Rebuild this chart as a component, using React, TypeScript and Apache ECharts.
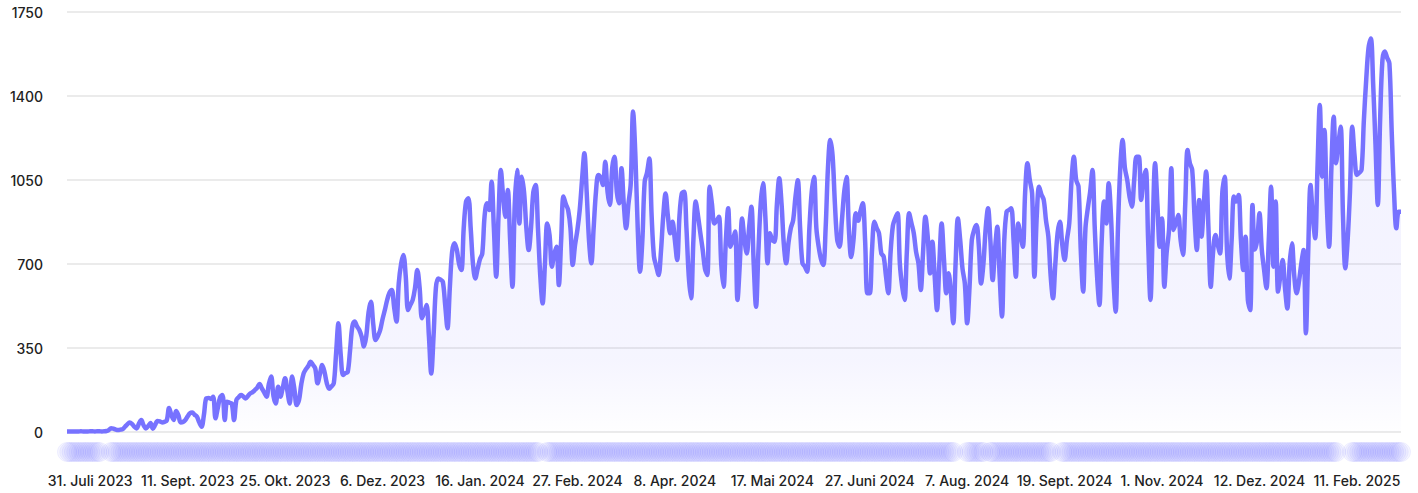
import { useEffect, useRef } from "react";
import * as echarts from "echarts";

const tickLabels = [
  "31. Juli 2023", "11. Sept. 2023", "25. Okt. 2023", "6. Dez. 2023", "16. Jan. 2024",
  "27. Feb. 2024", "8. Apr. 2024", "17. Mai 2024", "27. Juni 2024", "7. Aug. 2024",
  "19. Sept. 2024", "1. Nov. 2024", "12. Dez. 2024", "11. Feb. 2025",
];
const FIRST_TICK = 10;
const TICK_STEP = 42;

const valuesPart1 = [
  2, 2, 2, 2, 2, 2, 3, 2, 2, 2,
  3, 3, 2, 3, 3, 2, 3, 4,
  8, 16, 14, 10, 8, 10, 12, 22, 32, 40,
  34, 22, 15, 35, 50, 28, 15, 25, 37, 14,
  30, 46, 44, 40, 42, 48, 100, 70, 50, 87,
  70, 40, 42, 50, 65, 78, 81, 72, 64, 40,
  22, 70, 140, 142, 138, 147, 57, 100, 145, 154,
  50, 126, 122, 119, 50, 133, 145, 154, 148, 140,
  150, 161, 166, 175, 185, 200, 182, 165, 147, 200,
  231, 150, 119, 189, 147, 185, 224, 170, 119, 231,
  180, 112, 133, 200, 244, 262, 275, 293, 280, 265,
  203, 240, 279, 250, 203,
];
const valuesPart2 = [
  180, 190, 203, 330, 453, 320, 237, 245, 250, 340,
  440, 460, 440, 425, 397, 356, 400, 500, 543, 450,
  383, 400, 425, 470, 508, 550, 580, 592, 520, 460,
  620, 700, 737, 650, 508, 530, 550, 600, 675, 600,
  474, 500, 529, 400, 244, 400, 600, 640, 635, 626,
  530, 432, 600, 750, 786, 760, 700, 675, 850, 960,
  974, 850, 700, 640, 680, 720, 744, 900, 953, 925,
  1043, 850, 647, 900, 1092, 980, 897, 1008, 800, 605,
  950, 1092, 869, 1064, 1000, 850, 758, 850, 1000, 1029,
  850, 650, 536, 700, 869, 820, 689, 740, 772, 612,
  800, 981, 950, 925, 850, 696, 780, 842, 925, 1050,
  1161, 1000, 800, 703, 850, 1000, 1071,
];
const valuesPart3 = [
  1060, 1029, 1126, 1000, 946, 1100, 1147, 1000, 953, 1099,
  950, 849, 950, 1036, 1335, 1150, 850, 668, 800, 1043,
  1080, 1140, 900, 731, 690, 654, 750, 900, 994, 900,
  828, 876, 800, 717, 900, 994, 1001, 850, 650, 557,
  800, 960, 900, 828, 760, 680, 654, 1022, 950, 869,
  880, 897, 700, 605, 800, 932, 772, 800, 835, 550,
  700, 890, 800, 744, 850, 939, 700, 522, 750, 950,
  1036, 900, 703, 828, 800, 793, 950, 1057, 950, 780,
  703, 790, 850, 883, 980, 1049, 850, 703, 690, 668,
  850, 1000, 1063, 850, 772, 720, 696, 850, 1100, 1217,
  1150, 950, 800, 772, 880, 1000, 1063, 850, 729, 800,
  911, 880, 920, 953, 800, 578,
];
const valuesPart4 = [
  578, 760, 876, 850, 828, 744, 731, 650, 578, 750,
  860, 890, 911, 700, 605, 550, 750, 911, 870, 828,
  750, 703, 592, 750, 897, 814, 661, 793, 650, 508,
  700, 869, 720, 578, 661, 580, 453, 700, 890, 800,
  680, 619, 453, 600, 800, 842, 862, 780, 619, 700,
  850, 932, 800, 633, 760, 855, 650, 481, 800, 918,
  925, 932, 800, 647, 869, 820, 772, 1000, 1120, 1050,
  994, 647, 900, 1022, 990, 967, 880, 814, 650, 557,
  700, 830, 876, 780, 717, 800, 869, 1050, 1147, 1050,
  1022, 750, 585, 850, 932, 1000, 1092, 850, 650, 529,
  800, 960, 869, 1036, 900, 650, 501, 850, 1100, 1217,
  1100, 1050, 980, 939, 1050, 1147,
];
const valuesPart5 = [
  1147, 967, 1050, 1092, 800, 550, 850, 1120, 950, 772,
  890, 605, 750, 842, 1099, 842, 870, 904, 800, 738,
  950, 1175, 1120, 1092, 900, 758, 967, 814, 950, 1085,
  850, 605, 750, 821, 780, 744, 1000, 1064, 758, 640,
  800, 981, 960, 988, 800, 675, 814, 550, 508, 946,
  760, 800, 911, 760, 675, 599, 800, 1022, 689, 960,
  585, 650, 717, 600, 515, 700, 786, 650, 578, 626,
  700, 758, 411, 750, 1029, 897, 807, 1100, 1363, 1064,
  1258, 950, 772, 1100, 1314, 1120, 1200, 1272, 900, 682,
  800, 1000, 1272, 1150, 1071, 1080, 1092, 1300, 1467, 1600,
  1640, 1450, 1200, 946, 1300, 1550, 1585, 1560, 1536, 1250,
  1000, 849, 918, 918,
];

const values = [...valuesPart1, ...valuesPart2, ...valuesPart3, ...valuesPart4, ...valuesPart5];
const categories = values.map((_, i) => String(i));

// index ranges with no marker in the bottom dot strip
const dotGaps = [[15, 18], [204, 206], [383, 387], [396, 397], [425, 428], [548, 553]];

const LINE = "#7772ff";
const FONT = "Inter, 'Noto Sans', sans-serif";

export default function App() {
  const ref = useRef<HTMLDivElement>(null);
  useEffect(() => {
    const chart = echarts.init(ref.current!, null, { renderer: "svg" });
    const dots: number[][] = [];
    values.forEach((_, i) => {
      if (!dotGaps.some(([a, b]) => i >= a && i <= b)) dots.push([i, 0]);
    });
    const isTick = (i: number) => i >= FIRST_TICK && (i - FIRST_TICK) % TICK_STEP === 0;
    chart.setOption({
      animation: false,
      grid: [
        { left: 67, right: 17, top: 12, bottom: 61 },
        { left: 67, right: 17, top: 442, height: 20 },
      ],
      xAxis: [
        {
          type: "category", gridIndex: 0, data: categories, boundaryGap: false,
          axisLine: { show: false }, axisTick: { show: false }, axisLabel: { show: false },
        },
        {
          type: "category", gridIndex: 1, data: categories, boundaryGap: false,
          axisLine: { show: false }, axisTick: { show: false },
          axisLabel: {
            interval: (i: number) => isTick(i),
            formatter: (_v: string, i: number) => tickLabels[(i - FIRST_TICK) / TICK_STEP] ?? "",
            margin: 11, color: "#222", fontSize: 14, fontWeight: 500, fontFamily: FONT,
          },
        },
      ],
      yAxis: [
        {
          type: "value", gridIndex: 0, min: 0, max: 1750, interval: 350,
          axisLine: { show: false }, axisTick: { show: false },
          axisLabel: {
            color: "#222", fontSize: 14, fontWeight: 500, margin: 24, fontFamily: FONT,
            formatter: (v: number) => String(v),
          },
          splitLine: { lineStyle: { color: "#ebebeb", width: 2 } },
        },
        { type: "value", gridIndex: 1, min: -1, max: 1, show: false },
      ],
      series: [
        {
          type: "line", xAxisIndex: 0, yAxisIndex: 0, data: values,
          smooth: 0.35, showSymbol: false, clip: false,
          lineStyle: { color: LINE, width: 4.5 },
          areaStyle: {
            color: new echarts.graphic.LinearGradient(0, 0, 0, 1, [
              { offset: 0, color: "rgba(119,114,255,0.14)" },
              { offset: 0.82, color: "rgba(119,114,255,0.1)" },
              { offset: 1, color: "rgba(119,114,255,0.01)" },
            ]),
          },
        },
        {
          type: "scatter", xAxisIndex: 1, yAxisIndex: 1, data: dots,
          symbolSize: 19, clip: false,
          itemStyle: {
            color: "rgba(119,114,255,0.08)",
            borderColor: "rgba(119,114,255,0.12)", borderWidth: 1,
          },
        },
      ],
    });
    return () => chart.dispose();
  }, []);
  return <div ref={ref} style={{ position: "absolute", left: 0, top: 0, width: 1418, height: 493 }} />;
}
